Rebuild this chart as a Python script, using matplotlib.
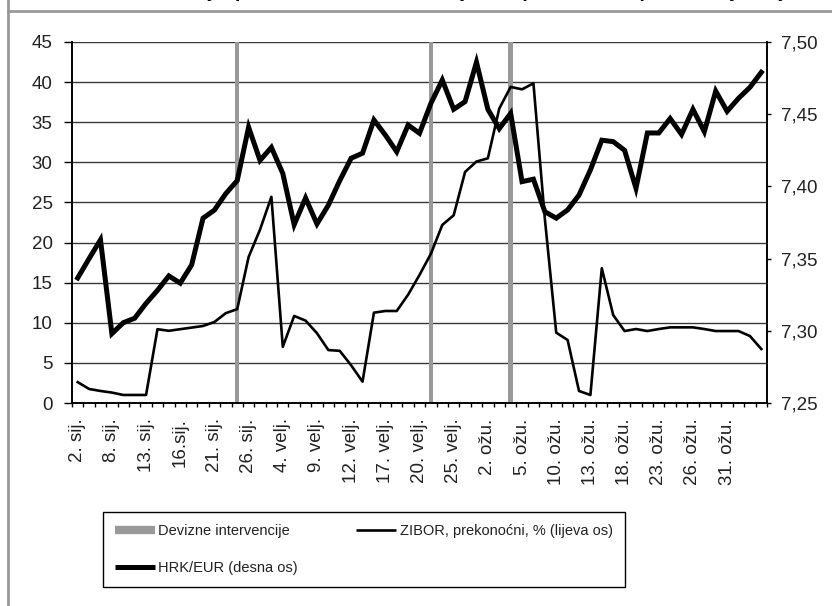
import numpy as np
import matplotlib.pyplot as plt
from matplotlib.lines import Line2D
from matplotlib.ticker import FuncFormatter

# dnevni podaci, 61 radni dan (sij. - ožu.)
zibor = [2.6, 1.75, 1.5, 1.3, 1.0, 1.0, 1.0, 9.2, 9.0, 9.2,
         9.4, 9.6, 10.1, 11.2, 11.7, 18.2, 21.6, 25.7, 7.0, 10.85,
         10.27, 8.7, 6.6, 6.5, 4.7, 2.66, 11.26, 11.47, 11.47, 13.5,
         15.96, 18.6, 22.2, 23.4, 28.8, 30.1, 30.5, 36.7, 39.4, 39.1,
         39.85, 23.0, 8.77, 7.85, 1.5, 1.0, 16.8, 10.97, 8.97, 9.22,
         8.97, 9.22, 9.43, 9.43, 9.43, 9.22, 8.97, 8.97, 8.97, 8.35, 6.73]
hrk_eur = [7.3366, 7.350, 7.363, 7.298, 7.3056, 7.3087, 7.319, 7.328, 7.338, 7.333,
           7.3456, 7.378, 7.3836, 7.395, 7.404, 7.441, 7.418, 7.427, 7.409, 7.3735,
           7.392, 7.374, 7.387, 7.404, 7.4195, 7.423, 7.446, 7.4356, 7.424, 7.4425,
           7.4368, 7.4575, 7.4737, 7.4534, 7.4587, 7.486, 7.4534, 7.440, 7.4506, 7.4033,
           7.405, 7.3825, 7.378, 7.3837, 7.394, 7.4114, 7.432, 7.431, 7.425, 7.3987,
           7.437, 7.437, 7.447, 7.436, 7.4534, 7.4379, 7.466, 7.452, 7.461, 7.4686, 7.479]
interv_dan = [14, 31, 38]
interv_vis = [45, 45, 45]

tick_labels = ["2. sij.", "8. sij.", "13. sij.", "16.sij.", "21. sij.", "26. sij.",
               "4. velj.", "9. velj.", "12. velj.", "17. velj.", "20. velj.", "25. velj.",
               "2. ožu.", "5. ožu.", "10. ožu.", "13. ožu.", "18. ožu.", "23. ožu.",
               "26. ožu.", "31. ožu."]
label_step = 3

title = "Devizne intervencije, prekonoćni ZIBOR i tečaj kune prema euru, prvo tromjesečje"

plt.rcParams['font.family'] = ['Liberation Sans', 'DejaVu Sans']
txt = '#222222'

fig = plt.figure(figsize=(8.32, 6.06), dpi=100)
ax = fig.add_axes([72 / 832, 1 - 403 / 606, 695 / 832, 361 / 606])
ax2 = ax.twinx()

x = np.arange(len(zibor))
ax.bar(interv_dan, interv_vis, width=0.4, color='#999999', zorder=2)
ax.plot(x, zibor, color='black', lw=1.9, zorder=3)
ax2.plot(x, hrk_eur, color='black', lw=3.6, solid_joinstyle='miter', zorder=3)

ax.set_xlim(-0.5, len(zibor) - 0.5)
ax.set_ylim(0, 45)
ax.set_yticks(np.arange(0, 46, 5))
ax2.set_ylim(7.25, 7.50)
ax2.set_yticks(np.arange(7.25, 7.501, 0.05))
ax2.yaxis.set_major_formatter(FuncFormatter(lambda v, _: f"{v:.2f}".replace('.', ',')))

ax.yaxis.grid(True, color='#3a3a3a', lw=1.0)
ax.set_axisbelow(True)

ax.set_xticks(np.arange(0, len(tick_labels) * label_step, label_step))
ax.set_xticklabels(tick_labels, rotation=90, ha='center', va='top')
ax.set_xticks(np.arange(-0.5, len(zibor), 1), minor=True)
ax.tick_params(axis='x', which='major', length=0, pad=11, labelsize=13.5, labelcolor=txt)
ax.tick_params(axis='x', which='minor', length=3, width=1, direction='out')
ax.tick_params(axis='y', length=6, width=1, pad=8, labelsize=13.5, labelcolor=txt)
ax2.tick_params(axis='y', length=3, width=1, pad=7, labelsize=13.5, labelcolor=txt)

for a in (ax, ax2):
    a.spines['top'].set_visible(False)
    for s in ('left', 'right', 'bottom'):
        a.spines[s].set_linewidth(1.2)

handles = [Line2D([], [], color='#999999', lw=6, solid_capstyle='butt'),
           Line2D([], [], color='black', lw=3.6, solid_capstyle='butt'),
           Line2D([], [], color='black', lw=1.9, solid_capstyle='butt')]
labels = ['Devizne intervencije', 'HRK/EUR (desna os)', 'ZIBOR, prekonoćni, % (lijeva os)']
leg = fig.legend(handles, labels, loc='upper left', bbox_to_anchor=(103 / 832, 1 - 512 / 606),
                 ncol=2, frameon=True, fancybox=False, edgecolor='black', framealpha=1,
                 fontsize=10.5, handlelength=2.75, handletextpad=0.25, columnspacing=4.0,
                 borderpad=0.8, labelspacing=1.6, borderaxespad=0)
leg.get_frame().set_linewidth(1.0)
for t in leg.get_texts():
    t.set_color(txt)

# okvir i odrezani naslov
fig.add_artist(Line2D([8 / 832, 8 / 832], [0, 1], transform=fig.transFigure, color='#999999', lw=2))
fig.add_artist(Line2D([8 / 832, 1], [1 - 11 / 606, 1 - 11 / 606], transform=fig.transFigure,
                      color='#999999', lw=2))
fig.text(0.5, 1 + 3 / 606, title, ha='center', va='baseline', fontweight='bold', fontsize=14)

fig.savefig('out.png', dpi=100)
